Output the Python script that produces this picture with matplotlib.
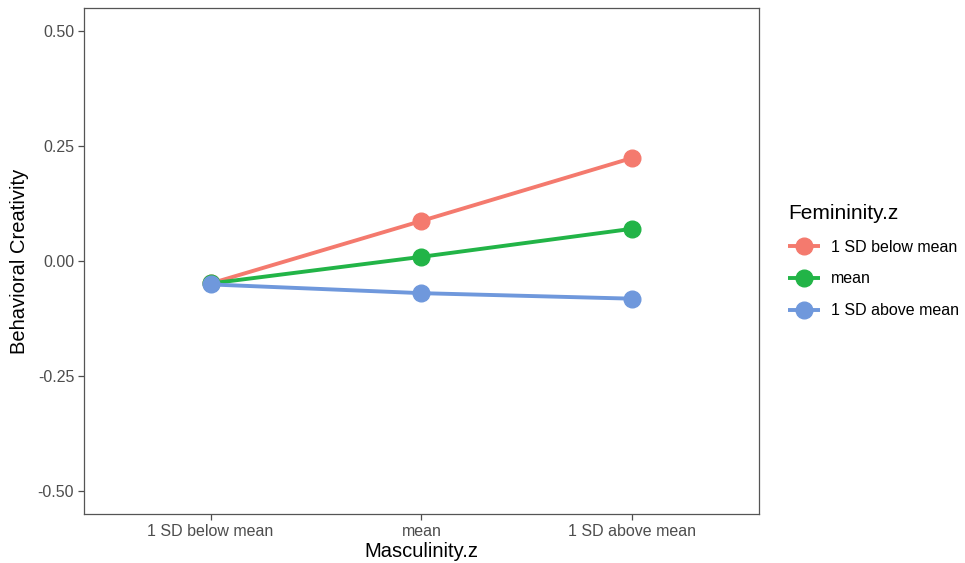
import matplotlib
matplotlib.use("Agg")
import matplotlib.pyplot as plt

plt.rcParams["font.family"] = ["Liberation Sans", "DejaVu Sans"]

x_labels = ["1 SD below mean", "mean", "1 SD above mean"]
groups = ["1 SD below mean", "mean", "1 SD above mean"]
colours = ["#F47A6E", "#22B447", "#6F98DC"]

low_fem = [-0.049, 0.087, 0.224]
mean_fem = [-0.049, 0.009, 0.070]
high_fem = [-0.051, -0.070, -0.082]
series = [low_fem, mean_fem, high_fem]

y_ticks = [-0.50, -0.25, 0.00, 0.25, 0.50]

fig = plt.figure(figsize=(9.65, 5.63), dpi=100)
ax = fig.add_axes([0.087, 0.087, 0.6995, 0.899])

xs = list(range(len(x_labels)))
for vals, name, col in zip(series, groups, colours):
    ax.plot(xs, vals, color=col, lw=2.8, marker="o", ms=12,
            solid_capstyle="butt", label=name)

ax.set_xlim(-0.6, 2.6)
ax.set_ylim(-0.55, 0.55)
ax.set_xticks(xs)
ax.set_xticklabels(x_labels)
ax.set_yticks(y_ticks)
ax.set_yticklabels([f"{v:.2f}" for v in y_ticks])

ax.tick_params(axis="both", colors="#4D4D4D", labelsize=11.5, length=4, width=0.9,
               labelcolor="#4D4D4D", pad=3)
for s in ax.spines.values():
    s.set_color("#555555")
    s.set_linewidth(0.9)

ax.set_xlabel("Masculinity.z", fontsize=14.5, labelpad=2)
ax.set_ylabel("Behavioral Creativity", fontsize=14.5, labelpad=6)

leg = ax.legend(title="Femininity.z", loc="center left",
                bbox_to_anchor=(1.022, 0.5), frameon=False, fontsize=11.5,
                title_fontsize=15, handlelength=2.0, handletextpad=0.7,
                labelspacing=1.05, borderaxespad=0.5)
leg._legend_box.align = "left"

fig.savefig("out.png", dpi=100)
